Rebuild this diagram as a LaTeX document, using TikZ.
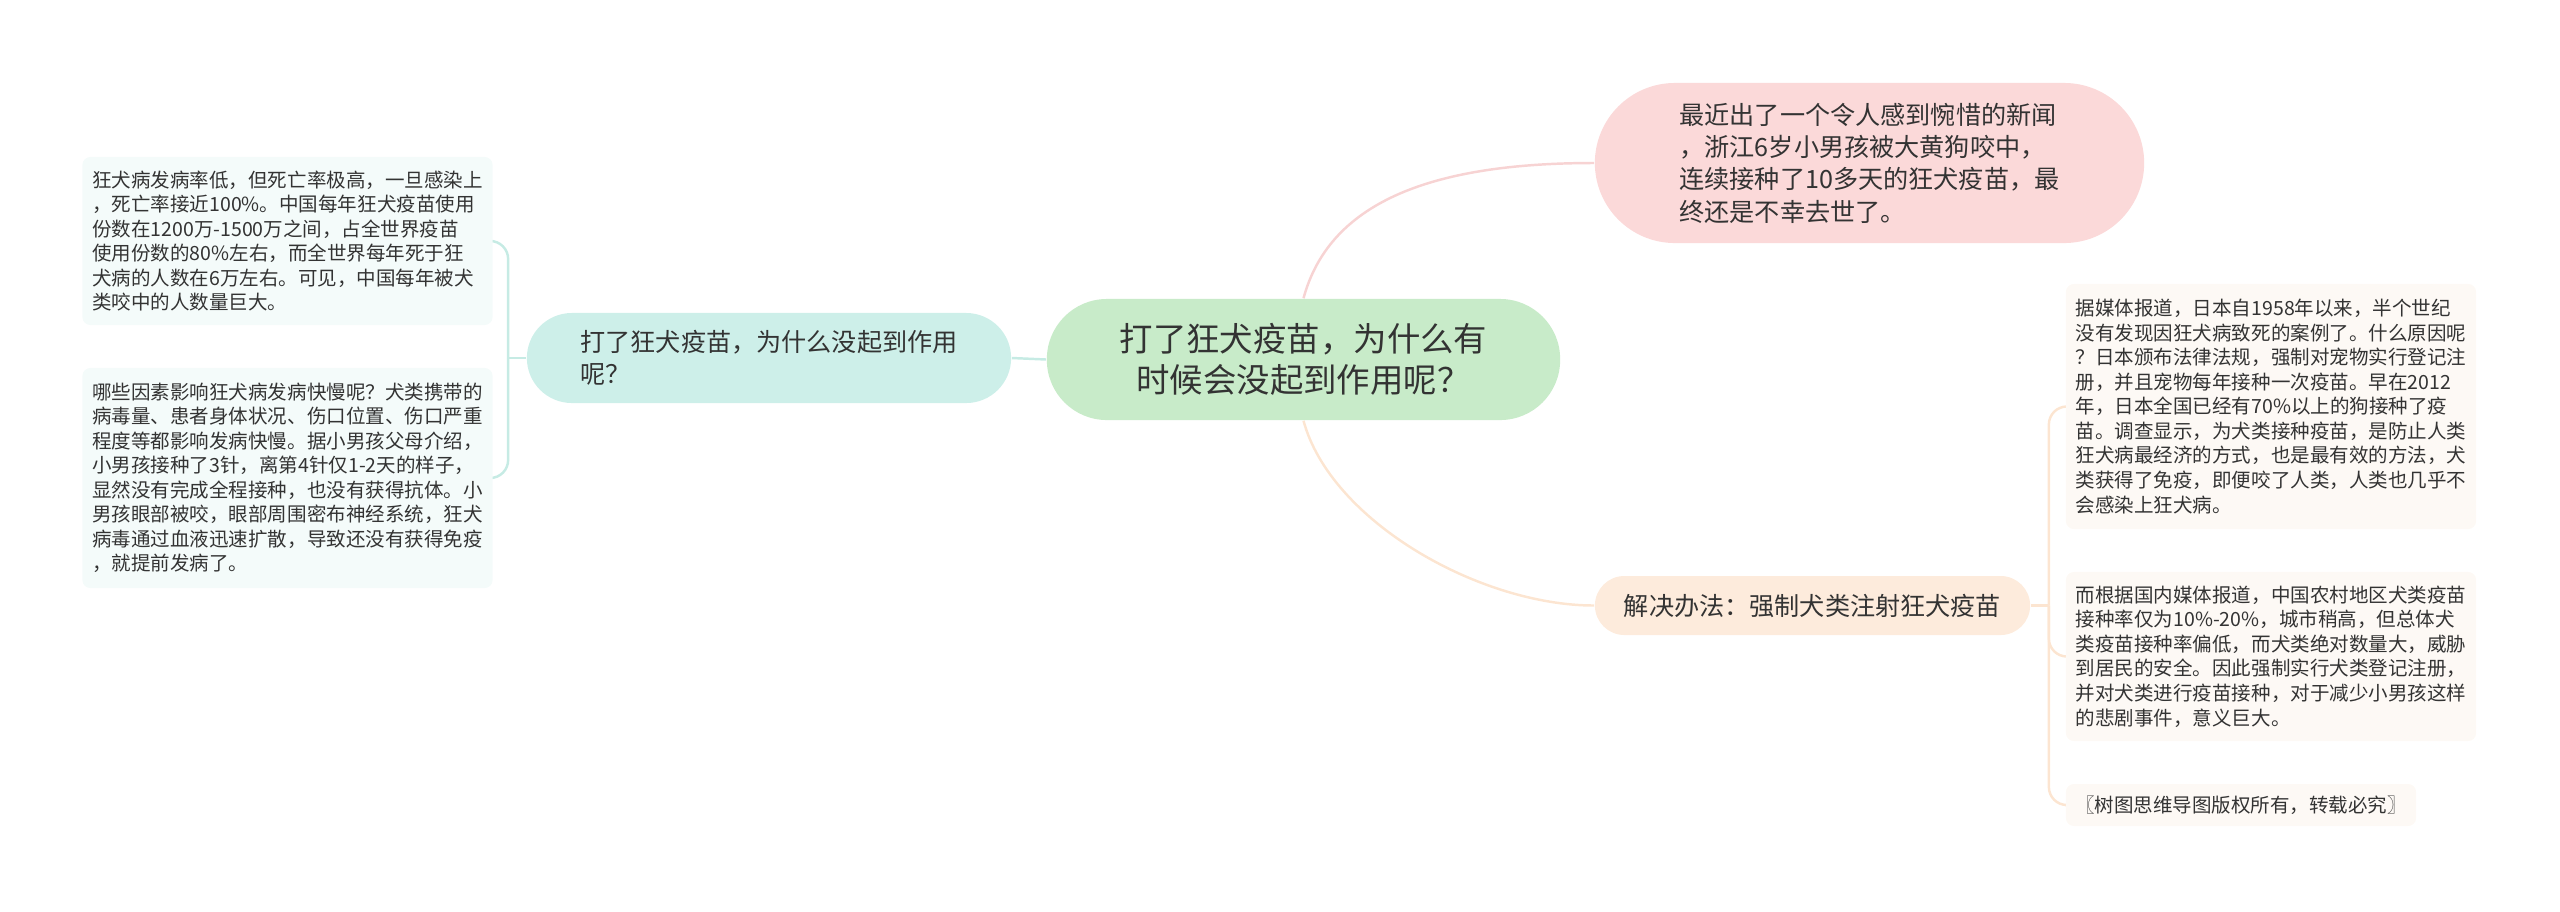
\documentclass[tikz,border=0pt]{standalone}
\usepackage{fontspec}
\setmainfont{Noto Sans CJK SC}
\usetikzlibrary{backgrounds}
\definecolor{rootfill}{HTML}{C8EBC9}
\definecolor{tealfill}{HTML}{CDEFE9}
\definecolor{tealleaf}{HTML}{F4FBFA}
\definecolor{tealline}{HTML}{C6EBE4}
\definecolor{pinkfill}{HTML}{FBD9D9}
\definecolor{pinkline}{HTML}{F7D3D3}
\definecolor{peachfill}{HTML}{FDEBDC}
\definecolor{peachleaf}{HTML}{FDF9F5}
\definecolor{peachline}{HTML}{FCE5D1}
\definecolor{ink}{HTML}{333333}
\tikzset{
	root/.style={rounded corners=6mm, align=center, inner sep=0pt, text=ink, minimum width=5.13cm, minimum height=1.21cm, font=\fontsize{9.5}{11.7}\selectfont},
	topic/.style={align=left, inner sep=0pt, text=ink, font=\fontsize{7.15}{9.2}\selectfont},
	leaf/.style={rounded corners=0.8mm, align=left, inner sep=0pt, text=ink, minimum width=4.1cm, font=\fontsize{5.55}{6.97}\selectfont},
	link/.style={line width=0.7pt}
}

\begin{document}
\begin{tikzpicture}[x=0.01cm, y=-0.01cm]
	\useasboundingbox (0,0) rectangle (2560,911);
	% main nodes
	\node[root, fill=rootfill] (root) at (1303.5,359.5) {打了狂犬疫苗，为什么有\\时候会没起到作用呢？};
	\node[topic, fill=tealfill, rounded corners=4.5mm, minimum width=4.84cm, minimum height=0.9cm] (why) at (769,358) {打了狂犬疫苗，为什么没起到作用\\呢？};
	\node[topic, fill=pinkfill, rounded corners=8mm, minimum width=5.49cm, minimum height=1.6cm] (news) at (1869.5,163) {最近出了一个令人感到惋惜的新闻\\，浙江6岁小男孩被大黄狗咬中，\\连续接种了10多天的狂犬疫苗，最\\终还是不幸去世了。};
	\node[topic, fill=peachfill, rounded corners=2.95mm, minimum width=4.35cm, minimum height=0.59cm] (fix) at (1812.5,605.5) {解决办法：强制犬类注射狂犬疫苗};
	% left leaves
	\node[leaf, fill=tealleaf, minimum height=1.68cm] (rate) at (287.5,241) {狂犬病发病率低，但死亡率极高，一旦感染上\\，死亡率接近100\%。中国每年狂犬疫苗使用\\份数在1200万-1500万之间，占全世界疫苗\\使用份数的80\%左右，而全世界每年死于狂\\犬病的人数在6万左右。可见，中国每年被犬\\类咬中的人数量巨大。};
	\node[leaf, fill=tealleaf, minimum height=2.2cm] (cause) at (287.5,478) {哪些因素影响狂犬病发病快慢呢？犬类携带的\\病毒量、患者身体状况、伤口位置、伤口严重\\程度等都影响发病快慢。据小男孩父母介绍，\\小男孩接种了3针，离第4针仅1-2天的样子，\\显然没有完成全程接种，也没有获得抗体。小\\男孩眼部被咬，眼部周围密布神经系统，狂犬\\病毒通过血液迅速扩散，导致还没有获得免疫\\，就提前发病了。};
	% right leaves
	\node[leaf, fill=peachleaf, minimum height=2.45cm] (japan) at (2271,406.5) {据媒体报道，日本自1958年以来，半个世纪\\没有发现因狂犬病致死的案例了。什么原因呢\\？日本颁布法律法规，强制对宠物实行登记注\\册，并且宠物每年接种一次疫苗。早在2012\\年，日本全国已经有70\%以上的狗接种了疫\\苗。调查显示，为犬类接种疫苗，是防止人类\\狂犬病最经济的方式，也是最有效的方法，犬\\类获得了免疫，即便咬了人类，人类也几乎不\\会感染上狂犬病。};
	\node[leaf, fill=peachleaf, minimum height=1.69cm] (china) at (2271,656.5) {而根据国内媒体报道，中国农村地区犬类疫苗\\接种率仅为10\%-20\%，城市稍高，但总体犬\\类疫苗接种率偏低，而犬类绝对数量大，威胁\\到居民的安全。因此强制实行犬类登记注册，\\并对犬类进行疫苗接种，对于减少小男孩这样\\的悲剧事件，意义巨大。};
	\node[leaf, fill=peachleaf, minimum width=3.5cm, minimum height=0.42cm] (copy) at (2241,805) {〖树图思维导图版权所有，转载必究〗};
	% connectors
	\coordinate (lj) at ([xshift=-1.8mm]why.west);
	\coordinate (rj) at ([xshift=1.8mm]fix.east);
	\begin{scope}[on background layer]
		\draw[link, tealline] (root.west) -- (why.east);
		\draw[link, pinkline] (root.north) .. controls +(27,-100) and +(-155,0) .. (news.west);
		\draw[link, peachline] (root.south) .. controls +(27,100) and +(-115,0) .. (fix.west);
		\draw[link, tealline] (why.west) -- (lj);
		\draw[link, tealline, rounded corners=1.8mm] (lj) |- (rate.east);
		\draw[link, tealline, rounded corners=1.8mm] (lj) |- (cause.east);
		\draw[link, peachline] (fix.east) -- (rj);
		\draw[link, peachline, rounded corners=1.8mm] (rj) |- (japan.west);
		\draw[link, peachline, rounded corners=1.8mm] (rj) |- (china.west);
		\draw[link, peachline, rounded corners=1.8mm] (rj) |- (copy.west);
	\end{scope}
\end{tikzpicture}
\end{document}
